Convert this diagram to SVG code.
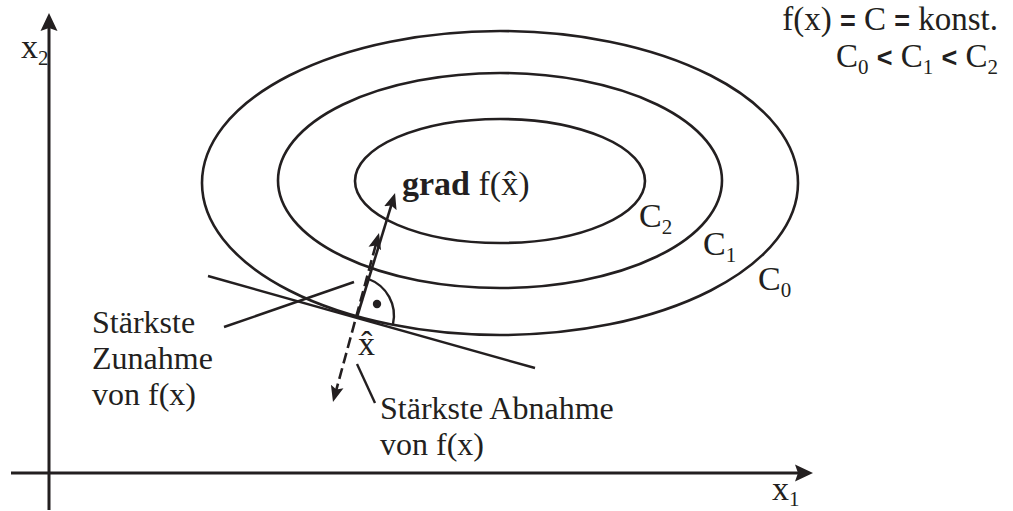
<svg xmlns="http://www.w3.org/2000/svg" width="1013" height="511" viewBox="0 0 1013 511">
<style>
  text { font-family: "Liberation Serif", "Times New Roman", serif; font-size: 34px; fill: #231f20; }
  .sub { font-size: 21px; }
  .bold { font-weight: bold; }
  .leg { font-size: 33px; }
  .lab { font-size: 32px; }
  .op { font-family: "Liberation Sans", Arial, sans-serif; font-weight: bold; font-size: 27px; }
  .ax { stroke: #231f20; stroke-width: 3; fill: none; }
  .curve { stroke: #231f20; stroke-width: 2.6; fill: none; }
  .thin { stroke: #231f20; stroke-width: 2.4; fill: none; }
  .dash { stroke: #231f20; stroke-width: 2.6; fill: none; stroke-dasharray: 11 5; }
</style>
<defs>
  <marker id="axhead" markerUnits="userSpaceOnUse" markerWidth="20" markerHeight="20" viewBox="0 -10 20 20" refX="8" refY="0" orient="auto">
    <path d="M0,-8.5 L18,0 L0,8.5 L3,0 z" fill="#231f20"/>
  </marker>
  <marker id="head" markerUnits="userSpaceOnUse" markerWidth="18" markerHeight="16" viewBox="0 -8 18 16" refX="8" refY="0" orient="auto-start-reverse">
    <path d="M0,-6.5 L16,0 L0,6.5 L3,0 z" fill="#231f20"/>
  </marker>
</defs>

<g id="axes">
  <line class="ax" x1="49" y1="510" x2="49" y2="23" marker-end="url(#axhead)"/>
  <line class="ax" x1="11" y1="473" x2="803" y2="473" marker-end="url(#axhead)"/>
  <text x="21" y="58">x<tspan class="sub" dy="7">2</tspan></text>
  <text x="772" y="500">x<tspan class="sub" dy="6">1</tspan></text>
</g>

<g id="contour-C0">
  <ellipse class="curve" cx="500" cy="183" rx="298" ry="152"/>
  <text x="758" y="290">C<tspan class="sub" dy="7">0</tspan></text>
</g>
<g id="contour-C1">
  <ellipse class="curve" cx="500" cy="180.5" rx="222" ry="107.5"/>
  <text x="703" y="255">C<tspan class="sub" dy="7">1</tspan></text>
</g>
<g id="contour-C2">
  <ellipse class="curve" cx="500" cy="181" rx="145" ry="62"/>
  <text x="639" y="227">C<tspan class="sub" dy="7">2</tspan></text>
</g>

<g id="legend">
  <text class="leg" x="998" y="30" text-anchor="end">f(x) <tspan class="op">=</tspan> C <tspan class="op">=</tspan> konst.</text>
  <text class="leg" x="998" y="67" text-anchor="end">C<tspan class="sub" dy="7">0</tspan><tspan dy="-7"> </tspan><tspan class="op">&lt;</tspan> C<tspan class="sub" dy="7">1</tspan><tspan dy="-7"> </tspan><tspan class="op">&lt;</tspan> C<tspan class="sub" dy="7">2</tspan></text>
</g>

<g id="connectors">
  <line class="thin" x1="208" y1="276" x2="535" y2="368"/>
  <line class="curve" x1="357" y1="317" x2="392.7" y2="200.6" marker-end="url(#head)"/>
  <line class="dash" x1="335.1" y1="394.3" x2="376.9" y2="240.7" marker-start="url(#head)" marker-end="url(#head)"/>
  <path class="thin" d="M368.5,279 A39,39 0 0 1 393,324"/>
  <circle cx="377" cy="304" r="4.2" fill="#231f20"/>
  <line class="thin" x1="224" y1="327" x2="354" y2="282"/>
  <line class="thin" x1="357" y1="364" x2="375" y2="403"/>
</g>

<g id="label-grad">
  <text x="402" y="195"><tspan class="bold">grad</tspan> f(x̂)</text>
</g>
<g id="label-xhat">
  <text x="358" y="355">x̂</text>
</g>
<g id="label-zunahme">
  <text class="lab" x="92" y="333">Stärkste</text>
  <text class="lab" x="92" y="369">Zunahme</text>
  <text class="lab" x="92" y="405">von f(x)</text>
</g>
<g id="label-abnahme">
  <text class="lab" x="380" y="419">Stärkste Abnahme</text>
  <text class="lab" x="380" y="455">von f(x)</text>
</g>
</svg>
